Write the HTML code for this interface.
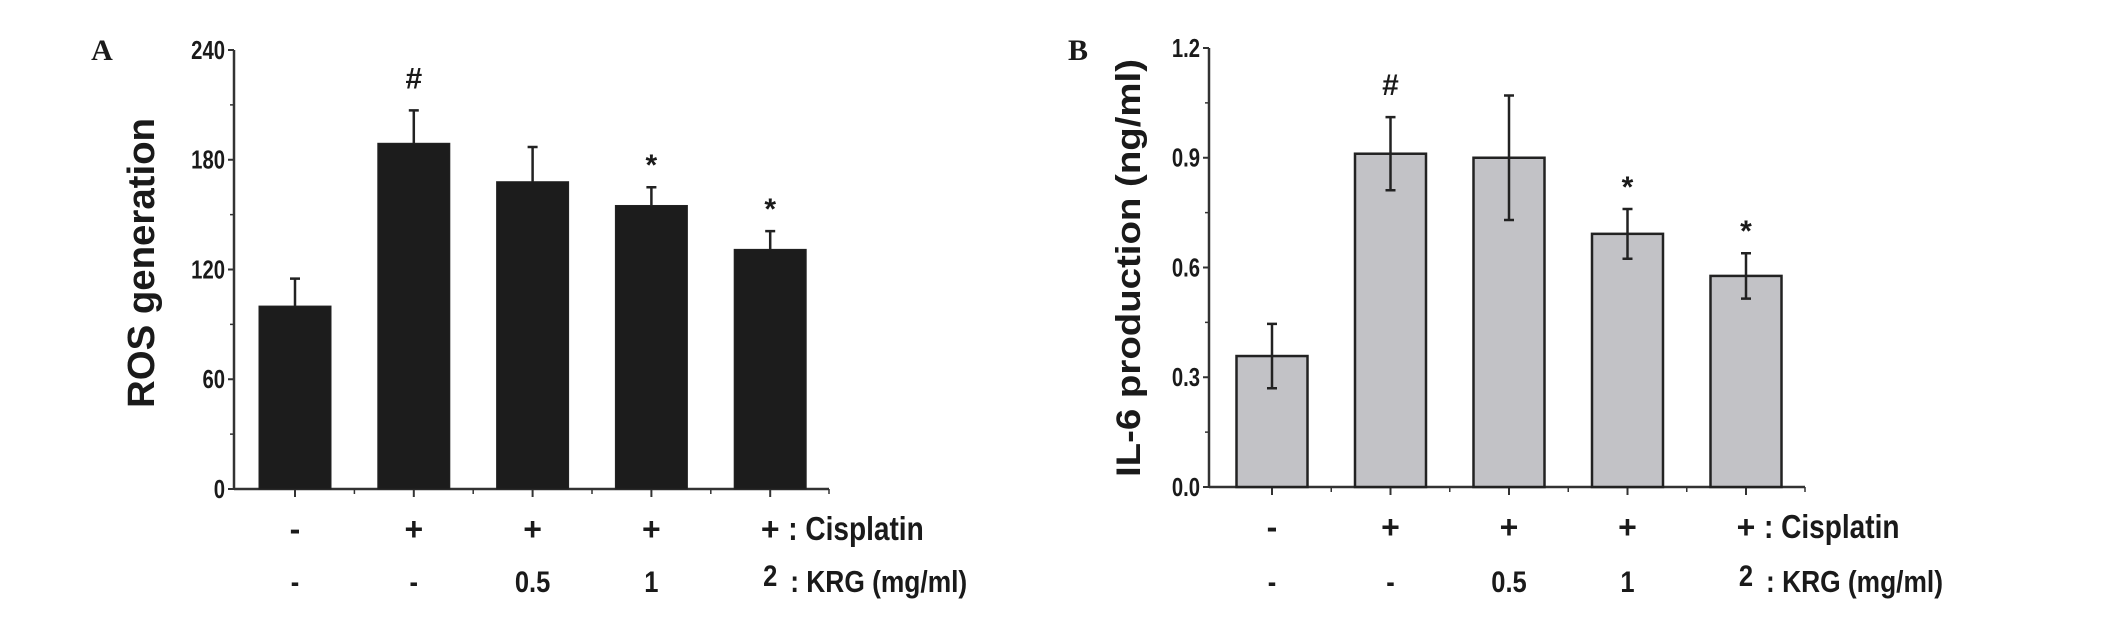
<!DOCTYPE html>
<html><head><meta charset="utf-8"><style>
html,body{margin:0;padding:0;background:#fff;}
svg{display:block;}
text{font-family:"Liberation Sans",Arial,sans-serif;font-weight:bold;fill:#1a1a1a;}
</style></head><body>
<svg id="chart" width="2126" height="618" viewBox="0 0 2126 618" xmlns="http://www.w3.org/2000/svg"></svg>
<script>
const categories = ["Control", "Cisplatin", "Cis+KRG0.5", "Cis+KRG1", "Cis+KRG2"];
const cisplatinLabels = ["-", "+", "+", "+", "+"];
const krgLabels = ["-", "-", "0.5", "1", "2"];
const rosValues = [100, 189, 168, 155, 131];
const rosErrors = [15, 18, 19, 10, 10];
const rosMarks = ["", "#", "", "*", "*"];
const rosTicks = [0, 60, 120, 180, 240];
const il6Values = [0.358, 0.911, 0.900, 0.692, 0.577];
const il6Errors = [0.088, 0.1, 0.17, 0.068, 0.062];
const il6Marks = ["", "#", "", "*", "*"];
const il6Ticks = ["0.0", "0.3", "0.6", "0.9", "1.2"];

const svg = document.getElementById('chart');
const NS = 'http://www.w3.org/2000/svg';
function mk(tag, attrs, parent) {
  const e = document.createElementNS(NS, tag);
  for (const k in attrs) e.setAttribute(k, attrs[k]);
  (parent || svg).appendChild(e);
  return e;
}
function narrow(x0) { return `translate(${x0} 0) scale(0.85 1) translate(${-x0} 0)`; }

function panel(cfg) {
  const g = mk('g', {});
  
  
  const y = v => cfg.y0 - (v - cfg.min) / (cfg.max - cfg.min) * (cfg.y0 - cfg.y1);
  const x = i => cfg.xc0 + i * cfg.step;
  const ax = mk('line', {x1: cfg.ax, y1: cfg.y1, x2: cfg.ax, y2: cfg.y0 + 1, stroke: '#333', 'stroke-width': 2.5}, g);
  
  
  const bx = mk('line', {x1: cfg.ax, y1: cfg.y0, x2: cfg.axEnd, y2: cfg.y0, stroke: '#333', 'stroke-width': 2.5}, g);
  
  
  cfg.ticks.forEach((t, i) => {
    const v = parseFloat(t);
    const yy = y(v);
    mk('line', {x1: cfg.ax - 6, y1: yy, x2: cfg.ax, y2: yy, stroke: '#333', 'stroke-width': 2}, g);
    const tx = mk('text', {x: cfg.ax - 9, y: yy + 9, 'text-anchor': 'end', 'font-size': 26, transform: `translate(${cfg.ax - 9} 0) scale(0.78 1) translate(${-(cfg.ax - 9)} 0)`}, g);
    tx.textContent = t;
    
    
    if (i < cfg.ticks.length - 1) {
      const m = (v + parseFloat(cfg.ticks[i + 1])) / 2;
      mk('line', {x1: cfg.ax - 4, y1: y(m), x2: cfg.ax, y2: y(m), stroke: '#333', 'stroke-width': 1.5}, g);
    }
  });
  categories.forEach((c, i) => {
    mk('line', {x1: x(i), y1: cfg.y0, x2: x(i), y2: cfg.y0 + 8, stroke: '#333', 'stroke-width': 2}, g);
    if (i < categories.length - 1) mk('line', {x1: x(i) + cfg.step / 2, y1: cfg.y0, x2: x(i) + cfg.step / 2, y2: cfg.y0 + 5, stroke: '#333', 'stroke-width': 1.5}, g);
  });
  mk('line', {x1: cfg.axEnd, y1: cfg.y0, x2: cfg.axEnd, y2: cfg.y0 + 5, stroke: '#333', 'stroke-width': 1.5}, g);
  cfg.values.forEach((v, i) => {
    const top = y(v);
    const r = mk('rect', {x: x(i) - cfg.bw / 2, y: top, width: cfg.bw, height: cfg.y0 - top, fill: cfg.fill, stroke: '#222', 'stroke-width': cfg.sw}, g);
    
    
    const e = cfg.errors[i];
    const eTop = y(v + e), eBot = cfg.both ? y(v - e) : top;
    const eb = mk('path', {d: `M${x(i)},${eBot}V${eTop}M${x(i) - 5},${eTop}H${x(i) + 5}` + (cfg.both ? `M${x(i) - 5},${eBot}H${x(i) + 5}` : ''), stroke: '#222', 'stroke-width': 2.5, fill: 'none'}, g);
    
    
    if (cfg.marks[i]) {
      const s = mk('text', {x: x(i), y: eTop - (cfg.marks[i] === '#' ? 22 : 12), 'text-anchor': 'middle', 'font-size': 30}, g);
      s.textContent = cfg.marks[i];
      
      
    }
    const c1 = mk('text', {x: x(i), y: cfg.row1, 'text-anchor': 'middle', 'font-size': 32}, g);
    c1.textContent = cisplatinLabels[i];
    
    
    const c2 = mk('text', {x: x(i), y: cfg.row2 - (i === 4 ? 6 : 0), 'text-anchor': 'middle', 'font-size': 30, transform: narrow(x(i))}, g);
    c2.textContent = krgLabels[i];
    
    
  });
  const l1 = mk('text', {x: x(4) + 18, y: cfg.row1, 'font-size': 33, transform: narrow(x(4) + 18)}, g);
  l1.textContent = ': Cisplatin';
  
  
  const l2 = mk('text', {x: x(4) + 20, y: cfg.row2, 'font-size': 31, transform: narrow(x(4) + 20)}, g);
  l2.textContent = ': KRG (mg/ml)';
  
  
  const yt = mk('text', {x: 0, y: 0, 'text-anchor': 'middle', 'font-size': cfg.titleSize, textLength: cfg.titleLen, lengthAdjust: 'spacingAndGlyphs', transform: `translate(${cfg.tx} ${cfg.ty}) rotate(-90)`}, g);
  yt.textContent = cfg.title;
  
  
  const pl = mk('text', {x: cfg.px, y: 60, 'text-anchor': 'middle', 'font-size': 30, style: 'font-family:"Liberation Serif",serif'}, g);
  pl.textContent = cfg.letter;
  
  
}

panel({name: 'panel-a-ros', min: 0, max: 240, y0: 489, y1: 50, ax: 234, axEnd: 829, xc0: 295, step: 118.8, bw: 72, values: rosValues, errors: rosErrors, marks: rosMarks, ticks: rosTicks.map(String), fill: '#1c1c1c', sw: 1, both: false, row1: 540, row2: 592, title: 'ROS generation', titleSize: 38, titleLen: 290, tx: 154, ty: 263, letter: 'A', px: 102});
panel({name: 'panel-b-il6', min: 0, max: 1.2, y0: 487, y1: 48, ax: 1209, axEnd: 1805, xc0: 1272, step: 118.5, bw: 71, values: il6Values, errors: il6Errors, marks: il6Marks, ticks: il6Ticks, fill: '#c2c2c6', sw: 2.5, both: true, row1: 538, row2: 592, title: 'IL-6 production (ng/ml)', titleSize: 34, titleLen: 418, tx: 1140, ty: 268, letter: 'B', px: 1078});
</script>
</body></html>
